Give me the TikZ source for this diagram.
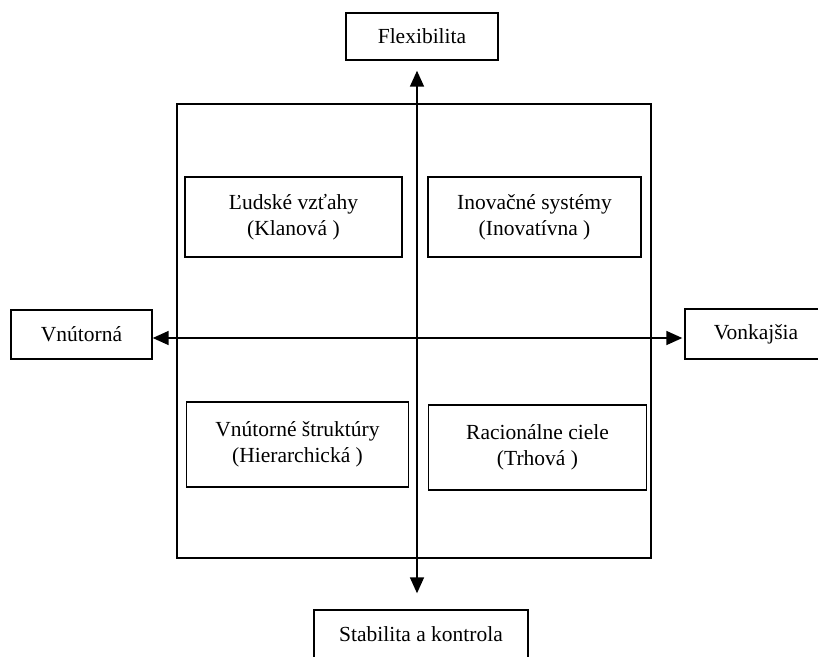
\documentclass[tikz,border=0pt]{standalone}
\usepackage{fontspec}
\setmainfont{Liberation Serif}
\usetikzlibrary{arrows.meta}
\usetikzlibrary{positioning}
\usetikzlibrary{calc}

\tikzset{
  box/.style={draw, line width=1.4pt, align=center, inner sep=0pt, font=\fontsize{21.5}{26}\selectfont},
  axis/.style={line width=1.6pt, {Triangle[length=16pt,width=14pt]}-{Triangle[length=16pt,width=14pt]}},
}

\begin{document}
\begin{tikzpicture}[x=1pt, y=-1pt]
  \useasboundingbox (0,0) rectangle (818,656);
  % axis crossing
  \def\vx{417}
  \def\hy{338}
  \coordinate (mid) at (\vx,\hy);

  % outer frame
  \node[box, minimum width=474, minimum height=454] (frame) at (414,331) {};

  % quadrant nodes
  \node[box, minimum width=217, minimum height=80] (klan) at (293.5,217) {Ľudské vzťahy\\(Klanová )};
  \node[box, minimum width=213, minimum height=80] (inov) at (534.5,217) {Inovačné systémy\\(Inovatívna )};
  \node[box, minimum width=222, minimum height=85] (hier) at (297.5,444.5) {Vnútorné štruktúry\\(Hierarchická )};
  \node[box, minimum width=218, minimum height=85] (trh) at (537.5,447.5) {Racionálne ciele\\(Trhová )};

  % axis labels
  \node[box, minimum width=152, minimum height=47] (flex) at (422,36.5) {Flexibilita};
  \node[box, minimum width=214, minimum height=49] (stab) at (421,634.5) {Stabilita a kontrola};
  \node[box, minimum width=141, minimum height=49] (vnut) at (81.5,334.5) {Vnútorná};
  \node[box, minimum width=142, minimum height=50] (vonk) at (756,334) {Vonkajšia};

  % axes
  \draw[axis] ($(flex.south -| mid)+(0,10)$) -- ($(stab.north -| mid)+(0,-16)$);
  \draw[axis] (vnut.east |- mid) -- ($(vonk.west |- mid)+(-2,0)$);
\end{tikzpicture}
\end{document}
